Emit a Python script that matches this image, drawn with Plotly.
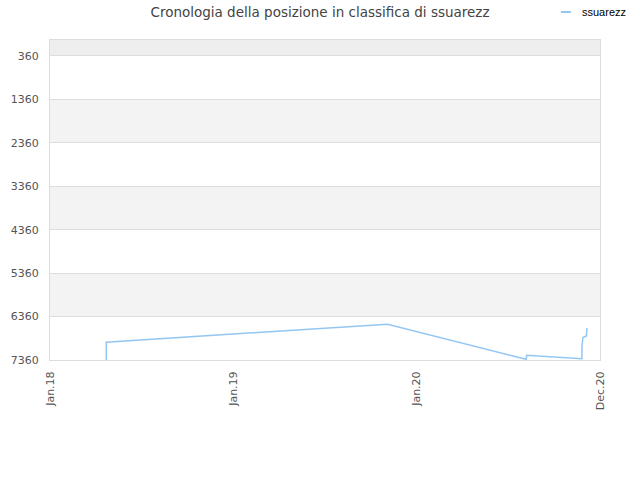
import plotly.graph_objects as go

# data
dates = ["2018-04-23", "2018-04-23", "2019-11-04", "2020-08-06", "2020-08-07",
         "2020-11-25", "2020-11-25", "2020-11-27", "2020-12-04", "2020-12-05"]
ranks = [7360, 6949, 6535, 7345, 7251, 7332, 7065, 6841, 6805, 6624]

y_ticks = [360, 1360, 2360, 3360, 4360, 5360, 6360, 7360]
x_tickvals = ["2018-01-01", "2019-01-01", "2020-01-01", "2020-12-31"]
x_ticktext = ["Jan.18", "Jan.19", "Jan.20", "Dec.20"]

line_col = "#94c6f4"

fig = go.Figure()

fig.add_trace(go.Scatter(
    x=dates, y=ranks,
    mode="lines",
    line=dict(color=line_col, width=1.5),
    name="ssuarezz",
    showlegend=False
))

# bande orizzontali alternate
y_top = -8
bands = [(y_top, y_ticks[0], "#eeeeee")]
for i in range(len(y_ticks) - 1):
    col = "#ffffff" if i % 2 == 0 else "#f3f3f3"
    bands.append((y_ticks[i], y_ticks[i + 1], col))
for y0, y1, col in bands:
    fig.add_shape(type="rect", xref="paper", yref="y", x0=0, x1=1, y0=y0, y1=y1,
                  fillcolor=col, line=dict(width=0), layer="below")

# legenda fatta a mano (in alto a destra)
fig.add_shape(type="line", xref="paper", yref="paper",
              x0=0.929, x1=0.947, y0=1.0875, y1=1.0875,
              line=dict(color=line_col, width=2))
fig.add_annotation(xref="paper", yref="paper", x=0.963, y=1.0875,
                   text="ssuarezz", showarrow=False, xanchor="left", yanchor="middle",
                   font=dict(family="Liberation Sans", size=11, color="#000000"))

fig.update_layout(
    width=640, height=480,
    title=dict(text="Cronologia della posizione in classifica di ssuarezz",
               x=0.5, xanchor="center", y=0.975, yanchor="middle",
               font=dict(family="DejaVu Sans", size=13.5, color="#444444")),
    font=dict(family="DejaVu Sans", size=11, color="#555555"),
    paper_bgcolor="white",
    plot_bgcolor="white",
    margin=dict(l=50, r=40, t=40, b=120, autoexpand=False),
    xaxis=dict(
        type="date",
        range=["2018-01-01", "2020-12-31"],
        tickvals=x_tickvals, ticktext=x_ticktext,
        tickangle=-90,
        showgrid=False,
        showline=True, linecolor="#dddddd", mirror=True,
        ticks="outside", ticklen=6, tickcolor="rgba(0,0,0,0)",
        zeroline=False, automargin=False,
        tickfont=dict(size=11, color="#555555"),
    ),
    yaxis=dict(
        range=[7360, y_top],
        tickvals=y_ticks,
        showgrid=True, gridcolor="#dddddd",
        showline=True, linecolor="#dddddd", mirror=True,
        ticks="outside", ticklen=8, tickcolor="rgba(0,0,0,0)",
        zeroline=False, automargin=False,
        tickfont=dict(size=11, color="#555555"),
    ),
)

# niente margine della pagina, cosi' la figura parte da (0, 0)
fig.write_html("out.html", config={"displayModeBar": False},
               post_script="document.body.style.margin='0';")
